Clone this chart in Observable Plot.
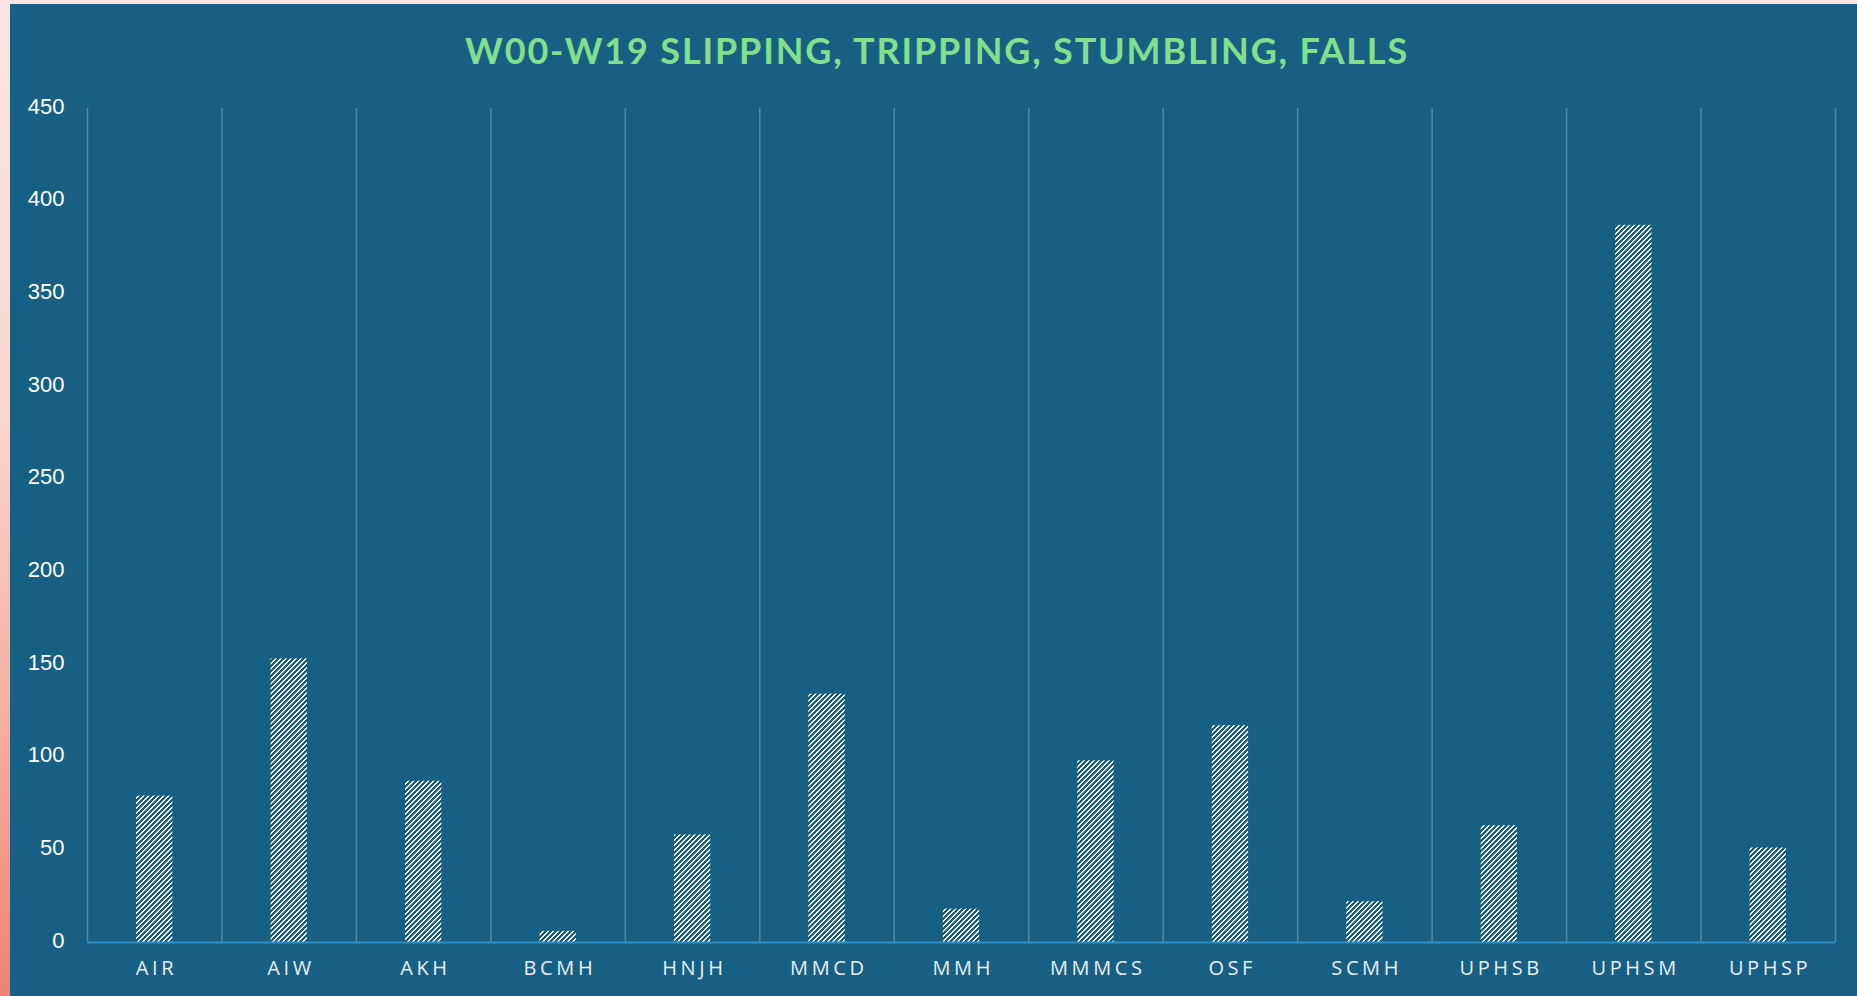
<!DOCTYPE html>
<html>
<head>
<meta charset="utf-8">
<script src="https://cdn.jsdelivr.net/npm/d3@7"></script>
<script src="https://cdn.jsdelivr.net/npm/@observablehq/plot@0.6"></script>
<style>
  html, body { margin: 0; padding: 0; }
  body {
    width: 1857px; height: 996px; overflow: hidden; position: relative;
    background: linear-gradient(to bottom, #fde4e1 0%, #fcd6d0 40%, #f6aa9c 75%, #ee8371 100%);
  }
  #panel {
    position: absolute; left: 10px; top: 4px; width: 1847px; height: 992px;
    background: #176083;
  }
  #title {
    height: 88px; line-height: 92px; text-align: center; padding-left: 7px; box-sizing: border-box;
    font-family: "Lato", "Liberation Sans", sans-serif; font-weight: 700; font-size: 36px;
    color: #80e08b; white-space: nowrap;
  }
  #chart svg g[aria-label="x-axis tick label"] text { letter-spacing: 3.6px; }
</style>
</head>
<body>
<div id="panel">
  <div id="title"><span id="titletext">W00-W19 SLIPPING, TRIPPING, STUMBLING, FALLS</span></div>
  <div id="chart"></div>
</div>
<script>
const categories = ["AIR","AIW","AKH","BCMH","HNJH","MMCD","MMH","MMMCS","OSF","SCMH","UPHSB","UPHSM","UPHSP"];
const values = [79, 153, 87, 6, 58, 134, 18, 98, 117, 22, 63, 387, 51];
const yTicks = [0, 50, 100, 150, 200, 250, 300, 350, 400, 450];

const data = categories.map((c, i) => ({cat: c, value: values[i]}));

const W = 1847, H = 904, ML = 77, MR = 22, MT = 16, MB = 54;
const step = (W - ML - MR) / categories.length;
const bg = "#176083";

const chart = Plot.plot({
  width: W, height: H,
  marginLeft: ML, marginRight: MR, marginTop: MT, marginBottom: MB,
  style: {background: "transparent", overflow: "visible"},
  x: {domain: categories, paddingInner: 0.73, paddingOuter: 0.365, round: false, label: null},
  y: {domain: [0, 450], label: null},
  marks: [
    Plot.ruleX(categories, {x: d => d, dx: -step / 2, y1: 0, y2: 450, stroke: "#5289a8", strokeWidth: 1.5}),
    Plot.ruleX([categories[categories.length - 1]], {x: d => d, dx: step / 2, y1: 0, y2: 450, stroke: "#5289a8", strokeWidth: 1.5}),
    Plot.barY(data, {x: "cat", y: "value", fill: "url(#hatch)"}),
    Plot.ruleY([0], {stroke: "#2f8ec4", strokeWidth: 2}),
    Plot.axisY({ticks: yTicks, tickSize: 0, tickPadding: 23, fontSize: 22, fill: "#ffffff", dy: -2,
      fontFamily: "Liberation Sans, Arial, sans-serif", label: null}),
    Plot.axisX({tickSize: 0, tickPadding: 18, fontSize: 20, fill: "#e8eef3", dx: 1.8,
      fontFamily: "Open Sans, sans-serif", label: null})
  ]
});

const ns = "http://www.w3.org/2000/svg";
const defs = document.createElementNS(ns, "defs");
defs.innerHTML = `<pattern id="hatch" patternUnits="userSpaceOnUse" width="5" height="5">
  <rect width="5" height="5" fill="#ffffff"/>
  <path d="M-1,1 L1,-1 M0,5 L5,0 M4,6 L6,4" stroke="${bg}" stroke-width="1.9" shape-rendering="crispEdges"/>
</pattern>`;
chart.insertBefore(defs, chart.firstChild);
document.getElementById("chart").appendChild(chart);

// fit title to its measured width in the reference
const t = document.getElementById("titletext");
const target = 944;
const n = t.textContent.length;
const w0 = t.getBoundingClientRect().width;
t.style.letterSpacing = ((target - w0) / n) + "px";
</script>
</body>
</html>
